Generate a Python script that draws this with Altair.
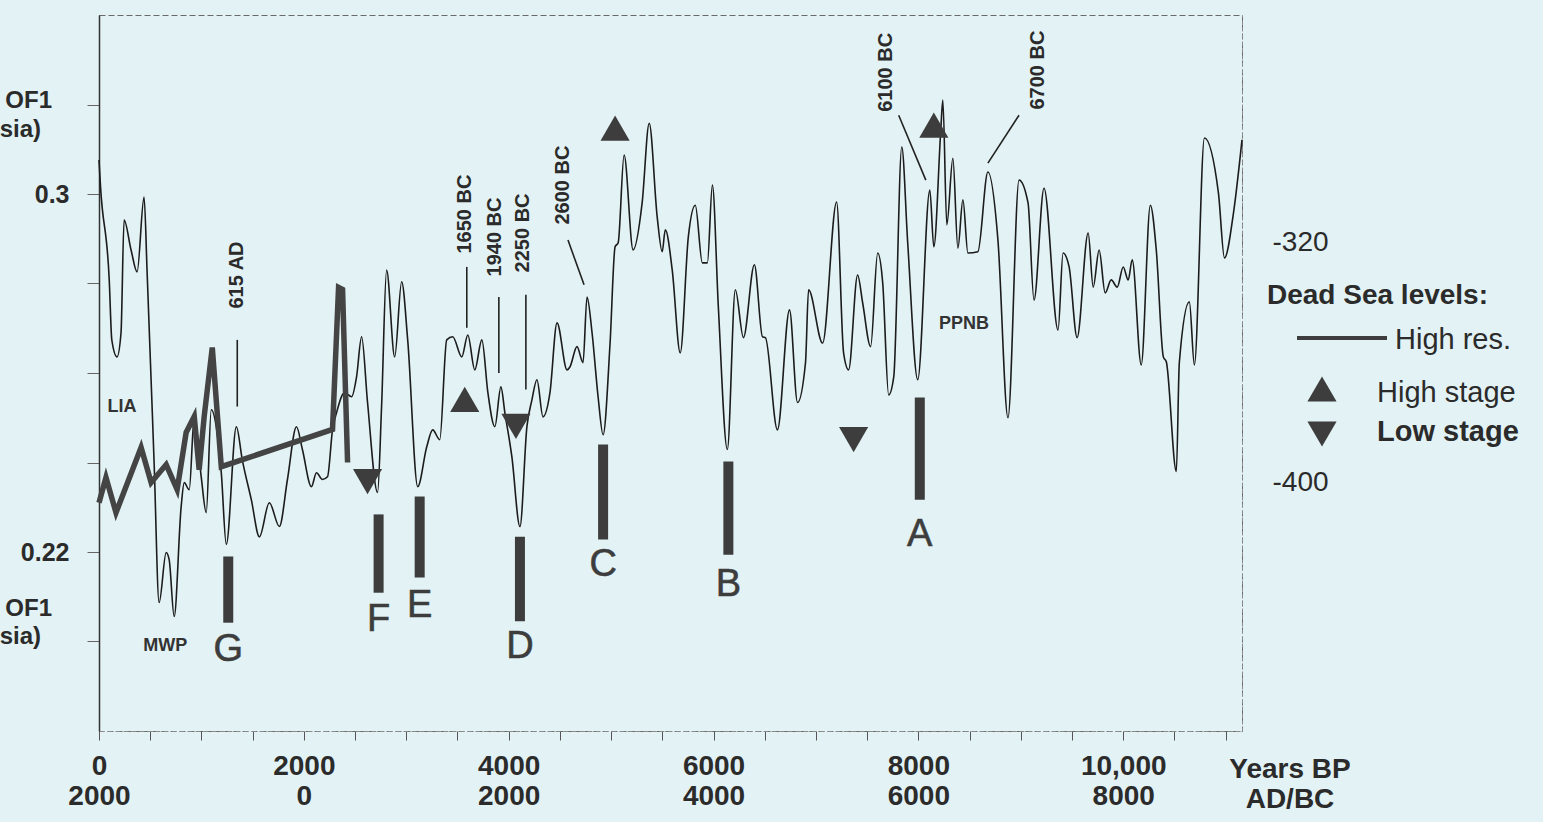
import altair as alt
import pandas as pd

# ---------------- data ----------------
# thin curve (left axis, EOF1) : years BP and value
thin_bp = [0, 15, 100, 125, 176, 215, 245, 313, 372, 440,
           470, 538, 587, 656, 685, 734, 802, 832, 881, 930,
           998, 1047, 1096, 1145, 1194, 1243, 1341, 1399, 1487, 1566,
           1663, 1761, 1840, 1928, 1986, 2074, 2123, 2182, 2231, 2280,
           2319, 2397, 2466, 2515, 2564, 2622, 2720, 2759, 2808, 2887,
           2955, 3014, 3112, 3200, 3258, 3327, 3395, 3454, 3542, 3601,
           3669, 3738, 3797, 3865, 3924, 3963, 4031, 4110, 4178, 4227,
           4276, 4335, 4403, 4472, 4570, 4599, 4667, 4726, 4765, 4814,
           4873, 4922, 4990, 5039, 5069, 5127, 5215, 5303, 5372, 5450,
           5499, 5529, 5597, 5675, 5754, 5822, 5891, 5940, 5989, 6047,
           6135, 6213, 6292, 6399, 6478, 6507, 6624, 6742, 6820, 6898,
           6928, 7065, 7202, 7270, 7319, 7407, 7456, 7534, 7603, 7652,
           7710, 7760, 7838, 7896, 7994, 8112, 8151, 8219, 8239, 8278,
           8337, 8386, 8435, 8484, 8581, 8679, 8777, 8875, 8983, 9071,
           9129, 9227, 9364, 9413, 9472, 9550, 9658, 9707, 9765, 9824,
           9883, 9942, 10000, 10049, 10088, 10176, 10265, 10323, 10392, 10421,
           10519, 10548, 10646, 10695, 10793, 10930, 10989, 11077, 11160]
thin_val = [0.3076, 0.3016, 0.2808, 0.2674, 0.2636, 0.2690, 0.2942, 0.2875, 0.2826, 0.2993,
            0.2824, 0.2400, 0.2087, 0.2199, 0.2183, 0.2056, 0.2301, 0.2355, 0.2339, 0.2502,
            0.2368, 0.2288, 0.2518, 0.2480, 0.2377, 0.2217, 0.2480, 0.2406, 0.2317, 0.2234,
            0.2310, 0.2257, 0.2362, 0.2480, 0.2429, 0.2346, 0.2377, 0.2362, 0.2368, 0.2473,
            0.2511, 0.2556, 0.2547, 0.2592, 0.2681, 0.2534, 0.2333, 0.2525, 0.2830, 0.2636,
            0.2804, 0.2674, 0.2346, 0.2435, 0.2473, 0.2451, 0.2674, 0.2681, 0.2636, 0.2685,
            0.2607, 0.2674, 0.2556, 0.2480, 0.2569, 0.2511, 0.2413, 0.2257, 0.2480, 0.2540,
            0.2585, 0.2502, 0.2556, 0.2712, 0.2607, 0.2614, 0.2659, 0.2623, 0.2770, 0.2690,
            0.2547, 0.2462, 0.2667, 0.2882, 0.2891, 0.3087, 0.2875, 0.2980, 0.3158, 0.2949,
            0.2871, 0.2920, 0.2830, 0.2645, 0.2904, 0.2975, 0.2846, 0.2846, 0.3020, 0.2748,
            0.2429, 0.2786, 0.2679, 0.2842, 0.2681, 0.2679, 0.2473, 0.2741, 0.2534, 0.2623,
            0.2786, 0.2667, 0.2982, 0.2645, 0.2607, 0.2819, 0.2757, 0.2659, 0.2868, 0.2801,
            0.2551, 0.2592, 0.3105, 0.2891, 0.2585, 0.3009, 0.2882, 0.3143, 0.3210, 0.2931,
            0.3080, 0.2879, 0.2987, 0.2868, 0.2871, 0.3049, 0.2897, 0.2500, 0.3031, 0.2980,
            0.2763, 0.3013, 0.2696, 0.2868, 0.2837, 0.2679, 0.2913, 0.2792, 0.2875, 0.2779,
            0.2808, 0.2792, 0.2837, 0.2808, 0.2853, 0.2618, 0.2975, 0.2875, 0.2636, 0.2625,
            0.2380, 0.2623, 0.2759, 0.2618, 0.3125, 0.3002, 0.2857, 0.2958, 0.3121]

# thick curve (right axis, Dead Sea level, high resolution)
thick_bp = [0, 68, 166, 411, 509, 656, 763, 851, 930, 978, 1027, 1106, 1194, 2280, 2339, 2378, 2427]
thick_lvl = [-406.7, -398.3, -410.0, -388.3, -400.0, -394.0, -402.3, -383.3, -378.0,
             -395.7, -378.0, -355.0, -394.7, -382.3, -335.0, -335.7, -393.3]

# Dead Sea high / low stages
high_bp = [3571, 5039, 8151]
high_lvl = [-372.3, -282.0, -281.0]
low_bp = [2622, 4071, 7368]
low_lvl = [-399.7, -381.3, -385.7]

# event bars A-G
event_names = ["G", "F", "E", "D", "C", "B", "A"]
event_bp = [1262, 2730, 3131, 4110, 4922, 6145, 8014]
event_top = [0.2190, 0.2284, 0.2324, 0.2234, 0.2440, 0.2402, 0.2545]
event_bot = [0.2042, 0.2109, 0.2143, 0.2045, 0.2228, 0.2194, 0.2317]
event_label_val = [0.1982, 0.2049, 0.2080, 0.1987, 0.2172, 0.2127, 0.2237]

# dated annotations (rotated) and their leader lines
ann_text = ["615 AD", "1650 BC", "1940 BC", "2250 BC", "2600 BC", "6100 BC", "6700 BC"]
ann_bp = [1350, 3572, 3865, 4139, 4530, 7681, 9169]
ann_val = [0.2819, 0.2955, 0.2904, 0.2913, 0.3020, 0.3272, 0.3277]
lead_bp1 = [1350, 3591, 3904, 4168, 4579, 7808, 8983]
lead_v1 = [0.2674, 0.2837, 0.2770, 0.2775, 0.2897, 0.3176, 0.3176]
lead_bp2 = [1350, 3591, 3904, 4168, 4736, 8073, 8679]
lead_v2 = [0.2525, 0.2701, 0.2600, 0.2563, 0.2797, 0.3031, 0.3069]

# period notes
note_text = ["LIA", "MWP", "PPNB"]
note_bp = [225, 646, 8445]
note_val = [0.2525, 0.1991, 0.2710]

# axis tick labels
x_label_values = [0, 2000, 4000, 6000, 8000, 10000]
x_labels_bp = ["0", "2000", "4000", "6000", "8000", "10,000"]
x_labels_adbc = ["2000", "0", "2000", "4000", "6000", "8000"]
x_tick_values = list(range(0, 11001, 500))
y_tick_values = [0.20, 0.22, 0.24, 0.26, 0.28, 0.30, 0.32]
y_label_values = [0.3, 0.22]
y_labels = ["0.3", "0.22"]
lvl_label_values = [-320, -400]
lvl_labels = ["-320", "-400"]

# ---------------- styling ----------------
FONT = "Liberation Sans"
INK = "#2b2b2b"
DARK = "#3d3d3d"
BG = "#e3f2f4"

X_DOMAIN = [0, 11160]
Y_DOMAIN = [0.18, 0.34]
LVL_DOMAIN = [-482.7, -244.3]

x_expr = " : ".join(
    f"datum.value == {v} ? ['{a}', '{b}']"
    for v, a, b in zip(x_label_values, x_labels_bp, x_labels_adbc)
) + " : ''"
y_expr = " : ".join(
    f"datum.value == {v} ? '{t}'" for v, t in zip(y_label_values, y_labels)
) + " : ''"
lvl_expr = " : ".join(
    f"datum.value == {v} ? '{t}'" for v, t in zip(lvl_label_values, lvl_labels)
) + " : ''"

x_axis = alt.Axis(values=x_tick_values, labelExpr=x_expr, title=None, grid=False,
                  tickSize=9, tickColor="#555555", domainColor="#8a8a8a", domainDash=[5, 3],
                  labelFont=FONT, labelFontSize=28, labelFontWeight="bold", labelColor=INK,
                  labelPadding=12, labelLineHeight=30, labelFlush=False, labelOverlap=False)
y_axis = alt.Axis(values=y_tick_values, labelExpr=y_expr, title=None, grid=False,
                  tickSize=12, tickColor="#666666", domainColor="#333333", domainWidth=1.5,
                  labelFont=FONT, labelFontSize=25, labelFontWeight="bold", labelColor=INK,
                  labelPadding=18)
lvl_axis = alt.Axis(orient="right", values=lvl_label_values, labelExpr=lvl_expr, title=None,
                    grid=False, ticks=False, domainColor="#8a8a8a", domainDash=[4, 3],
                    labelFont=FONT, labelFontSize=28, labelColor=INK, labelPadding=30)

X = lambda f: alt.X(f, type="quantitative", scale=alt.Scale(domain=X_DOMAIN, nice=False, zero=False), axis=x_axis)
Y = lambda f: alt.Y(f, type="quantitative", scale=alt.Scale(domain=Y_DOMAIN, nice=False, zero=False), axis=y_axis)
L = lambda f: alt.Y(f, type="quantitative", scale=alt.Scale(domain=LVL_DOMAIN, nice=False, zero=False), axis=lvl_axis)

thin_df = pd.DataFrame({"bp": thin_bp, "v": thin_val})
thick_df = pd.DataFrame({"bp": thick_bp, "lvl": thick_lvl})
high_df = pd.DataFrame({"bp": high_bp, "lvl": high_lvl})
low_df = pd.DataFrame({"bp": low_bp, "lvl": low_lvl})
ev_df = pd.DataFrame({"name": event_names, "bp": event_bp, "top": event_top,
                      "bot": event_bot, "lab": event_label_val})
ann_df = pd.DataFrame({"t": ann_text, "bp": ann_bp, "v": ann_val})
lead_df = pd.DataFrame({"bp1": lead_bp1, "v1": lead_v1, "bp2": lead_bp2, "v2": lead_v2})
note_df = pd.DataFrame({"t": note_text, "bp": note_bp, "v": note_val})
one = pd.DataFrame({"k": [0]})

thin = alt.Chart(thin_df).mark_line(color="#1c1c1c", strokeWidth=1.6, interpolate="monotone").encode(
    x=X("bp"), y=Y("v"))
bars = alt.Chart(ev_df).mark_rule(color=DARK, strokeWidth=10, strokeCap="butt").encode(
    x=X("bp"), y=Y("top"), y2="bot")
letters = alt.Chart(ev_df).mark_text(font=FONT, fontSize=38, color=DARK, stroke=DARK, strokeWidth=0.6,
                                     align="center", baseline="middle").encode(
    x=X("bp"), y=Y("lab"), text="name")
leads = alt.Chart(lead_df).mark_rule(color="#222222", strokeWidth=1.6).encode(
    x=X("bp1"), y=Y("v1"), x2="bp2", y2="v2")
anns = alt.Chart(ann_df).mark_text(font=FONT, fontSize=20, fontWeight="bold", color=INK,
                                   angle=270, align="center", baseline="middle").encode(
    x=X("bp"), y=Y("v"), text="t")
notes = alt.Chart(note_df).mark_text(font=FONT, fontSize=18, fontWeight="bold", color="#333333",
                                     align="center", baseline="middle").encode(
    x=X("bp"), y=Y("v"), text="t")


def txt(s, x, y, size=28, weight="normal", align="left"):
    return alt.Chart(one).mark_text(font=FONT, fontSize=size, fontWeight=weight, color=INK,
                                    align=align, baseline="middle", lineBreak="\n",
                                    lineHeight=30).encode(
        x=alt.value(x), y=alt.value(y), text=alt.value(s))


side = [
    txt("OF1", -47, 86, 24, "bold", "right"),
    txt("sia)", -58, 115, 24, "bold", "right"),
    txt("OF1", -47, 594, 24, "bold", "right"),
    txt("sia)", -58, 622, 24, "bold", "right"),
    txt("Years BP\nAD/BC", 1191, 755, 28, "bold", "center"),
    txt("Dead Sea levels:", 1168, 281, 28, "bold"),
    txt("High res.", 1296, 325, 29),
    txt("High stage", 1278, 378, 29),
    txt("Low stage", 1278, 417, 29, "bold"),
]
leg_line = alt.Chart(one).mark_rule(color=DARK, strokeWidth=4).encode(
    x=alt.value(1198), x2=alt.value(1288), y=alt.value(323))
leg_up = alt.Chart(one).mark_point(shape="triangle-up", filled=True, size=850, color=DARK, opacity=1).encode(
    x=alt.value(1223), y=alt.value(374))
leg_down = alt.Chart(one).mark_point(shape="triangle-down", filled=True, size=850, color=DARK, opacity=1).encode(
    x=alt.value(1223), y=alt.value(419))

left_group = alt.layer(thin, bars, letters, leads, anns, notes, *side, leg_line, leg_up, leg_down)

thick = alt.Chart(thick_df).mark_line(color="#444444", strokeWidth=5.5, strokeJoin="miter").encode(
    x=X("bp"), y=L("lvl"))
highs = alt.Chart(high_df).mark_point(shape="triangle-up", filled=True, size=850, color=DARK, opacity=1).encode(
    x=X("bp"), y=L("lvl"))
lows = alt.Chart(low_df).mark_point(shape="triangle-down", filled=True, size=850, color=DARK, opacity=1).encode(
    x=X("bp"), y=L("lvl"))
right_group = alt.layer(thick, highs, lows)

chart = alt.layer(left_group, right_group).resolve_scale(y="independent").properties(
    width=1143, height=716,
    padding={"left": 99, "top": 15, "right": 301, "bottom": 91},
    autosize=alt.AutoSizeParams(type="none"),
    background=BG,
).configure_view(stroke="#6a6a6a", strokeDash=[6, 3], strokeWidth=1)

chart.save("out.html", embed_options={"renderer": "svg", "actions": False})
